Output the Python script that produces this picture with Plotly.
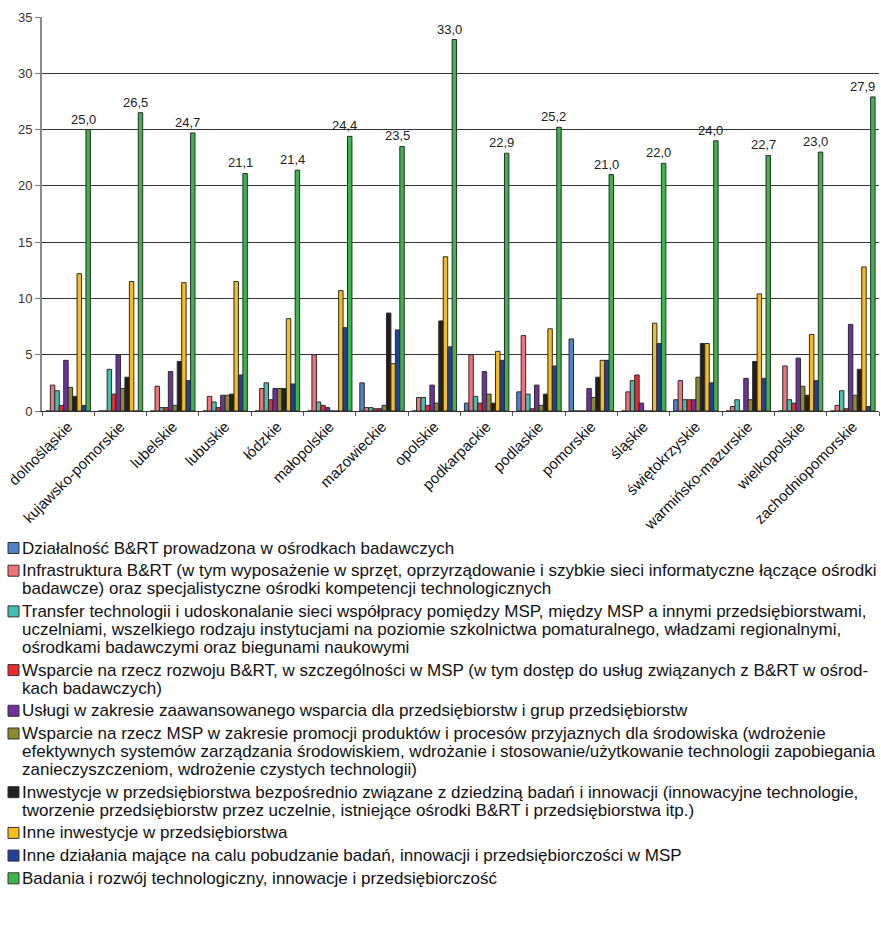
import plotly.graph_objects as go

# Regions (voivodeships) on the category axis
regions = [
    "dolnośląskie", "kujawsko-pomorskie", "lubelskie", "lubuskie", "łódzkie",
    "małopolskie", "mazowieckie", "opolskie", "podkarpackie", "podlaskie",
    "pomorskie", "śląskie", "świętokrzyskie", "warmińsko-mazurskie",
    "wielkopolskie", "zachodniopomorskie",
]

# Series names, already broken into the lines shown in the legend
names = [
    ["Działalność B&RT prowadzona w ośrodkach badawczych"],
    ["Infrastruktura B&RT (w tym wyposażenie w sprzęt, oprzyrządowanie i szybkie sieci informatyczne łączące ośrodki",
     "badawcze) oraz specjalistyczne ośrodki kompetencji technologicznych"],
    ["Transfer technologii i udoskonalanie sieci współpracy pomiędzy MSP, między MSP a innymi przedsiębiorstwami,",
     "uczelniami, wszelkiego rodzaju instytucjami na poziomie szkolnictwa pomaturalnego, władzami regionalnymi,",
     "ośrodkami badawczymi oraz biegunami naukowymi"],
    ["Wsparcie na rzecz rozwoju B&RT, w szczególności w MSP (w tym dostęp do usług związanych z B&RT w ośrod-",
     "kach badawczych)"],
    ["Usługi w zakresie zaawansowanego wsparcia dla przedsiębiorstw i grup przedsiębiorstw"],
    ["Wsparcie na rzecz MSP w zakresie promocji produktów i procesów przyjaznych dla środowiska (wdrożenie",
     "efektywnych systemów zarządzania środowiskiem, wdrożanie i stosowanie/użytkowanie technologii zapobiegania",
     "zanieczyszczeniom, wdrożenie czystych technologii)"],
    ["Inwestycje w przedsiębiorstwa bezpośrednio związane z dziedziną badań i innowacji (innowacyjne technologie,",
     "tworzenie przedsiębiorstw przez uczelnie, istniejące ośrodki B&RT i przedsiębiorstwa itp.)"],
    ["Inne inwestycje w przedsiębiorstwa"],
    ["Inne działania mające na calu pobudzanie badań, innowacji i przedsiębiorczości w MSP"],
    ["Badania i rozwój technologiczny, innowacje i przedsiębiorczość"],
]

# Values per series (one value per region)
dzialalnosc_brt = [0, 0, 0, 0, 0, 0, 2.5, 0, 0.7, 1.7, 6.4, 0, 1.0, 0, 0, 0]
infrastruktura = [2.3, 0, 2.2, 1.3, 2.0, 5.0, 0.3, 1.2, 5.0, 6.7, 0, 1.7, 2.7, 0.4, 4.0, 0.5]
transfer = [1.8, 3.7, 0.3, 0.8, 2.5, 0.8, 0.3, 1.2, 1.3, 1.5, 0, 2.7, 1.0, 1.0, 1.0, 1.8]
wsparcie_brt = [0.5, 1.5, 0.3, 0.3, 1.0, 0.5, 0.2, 0.5, 0.7, 0.2, 0, 3.2, 1.0, 0, 0.7, 0.2]
uslugi = [4.5, 5.0, 3.5, 1.4, 2.0, 0.3, 0.2, 2.3, 3.5, 2.3, 2.0, 0.7, 1.0, 2.9, 4.7, 7.7]
srodowisko = [2.1, 2.0, 0.5, 1.4, 2.0, 0, 0.5, 0.7, 1.5, 0.5, 1.2, 0, 3.0, 1.0, 2.2, 1.4]
inwestycje_bi = [1.3, 3.0, 4.4, 1.5, 2.0, 0, 8.7, 8.0, 0.7, 1.5, 3.0, 0, 6.0, 4.4, 1.4, 3.7]
inne_inwestycje = [12.2, 11.5, 11.4, 11.5, 8.2, 10.7, 4.2, 13.7, 5.3, 7.3, 4.5, 7.8, 6.0, 10.4, 6.8, 12.8]
inne_dzialania = [0.5, 0, 2.7, 3.2, 2.4, 7.4, 7.2, 5.7, 4.5, 4.0, 4.5, 6.0, 2.5, 2.9, 2.7, 0.4]
badania_razem = [25.0, 26.5, 24.7, 21.1, 21.4, 24.4, 23.5, 33.0, 22.9, 25.2, 21.0, 22.0, 24.0, 22.7, 23.0, 27.9]

series = [dzialalnosc_brt, infrastruktura, transfer, wsparcie_brt, uslugi,
          srodowisko, inwestycje_bi, inne_inwestycje, inne_dzialania, badania_razem]

colors = ["#4F84CC", "#F2737A", "#45BFB0", "#EC2A2E", "#7030A0",
          "#8B8B2E", "#231F20", "#F8BC1C", "#22409A", "#3CB54A"]

y_ticks = [0, 5, 10, 15, 20, 25, 30, 35]

W, H = 881, 928
PL, PR, PT, PB = 42, 879, 17, 411
FONT = "Liberation Sans, Arial, sans-serif"


def xp(px):
    return (px - PL) / (PR - PL)


def yp(py):
    return (PB - py) / (PB - PT)


fig = go.Figure()
for i, (vals, col) in enumerate(zip(series, colors)):
    fig.add_trace(go.Bar(
        x=regions, y=vals, name=" ".join(names[i]),
        marker=dict(color=col, line=dict(color="#2b2b2b", width=1)),
        showlegend=False,
    ))

annotations = []

# Value labels above the total bars (decimal comma), kept inside the plot width
group_w = (PR - PL) / len(regions)
for i, (reg, v) in enumerate(zip(regions, badania_razem)):
    centre = PL + (i + 0.5) * group_w
    label_x = min(centre + 15, PR - 16)
    annotations.append(dict(
        x=reg, y=v, xref="x", yref="y", xshift=label_x - centre, yshift=1,
        xanchor="center", yanchor="bottom", showarrow=False,
        text=f"{v:.1f}".replace(".", ","),
        font=dict(family=FONT, size=13, color="#222"),
    ))

# Legend drawn below the chart: coloured square plus wrapped description lines
shapes = []
y = 548.0
for col, lines in zip(colors, names):
    shapes.append(dict(type="rect", xref="paper", yref="paper",
                       x0=xp(8), x1=xp(19), y0=yp(y + 5.5), y1=yp(y - 5.5),
                       fillcolor=col, line=dict(color="#333", width=1)))
    for k, line in enumerate(lines):
        annotations.append(dict(
            xref="paper", yref="paper", x=xp(20), y=yp(y + k * 18),
            xanchor="left", yanchor="middle", showarrow=False, text=line,
            font=dict(family=FONT, size=17, color="#111"),
        ))
    y = y + (len(lines) - 1) * 18 + 22.7

fig.update_layout(
    width=W, height=H,
    margin=dict(l=PL, r=W - PR, t=PT, b=H - PB, pad=0),
    paper_bgcolor="white", plot_bgcolor="white",
    barmode="group", bargap=0.15, bargroupgap=0,
    separators=", ",
    shapes=shapes, annotations=annotations,
    font=dict(family=FONT, color="#222"),
    xaxis=dict(
        tickangle=-45, tickson="boundaries", ticks="outside", ticklen=4,
        tickcolor="#555", showline=True, linecolor="#333", linewidth=1,
        showgrid=False,
        tickfont=dict(family=FONT, size=15, color="#111"),
    ),
    yaxis=dict(
        range=[0, 35], tickvals=y_ticks, ticks="outside", ticklen=5,
        tickcolor="#777", showline=True, linecolor="#8a8a8a", linewidth=2,
        showgrid=True, gridcolor="#333", gridwidth=1, zeroline=False,
        tickfont=dict(family=FONT, size=13, color="#333"),
    ),
)

fig.write_html("out.html")
